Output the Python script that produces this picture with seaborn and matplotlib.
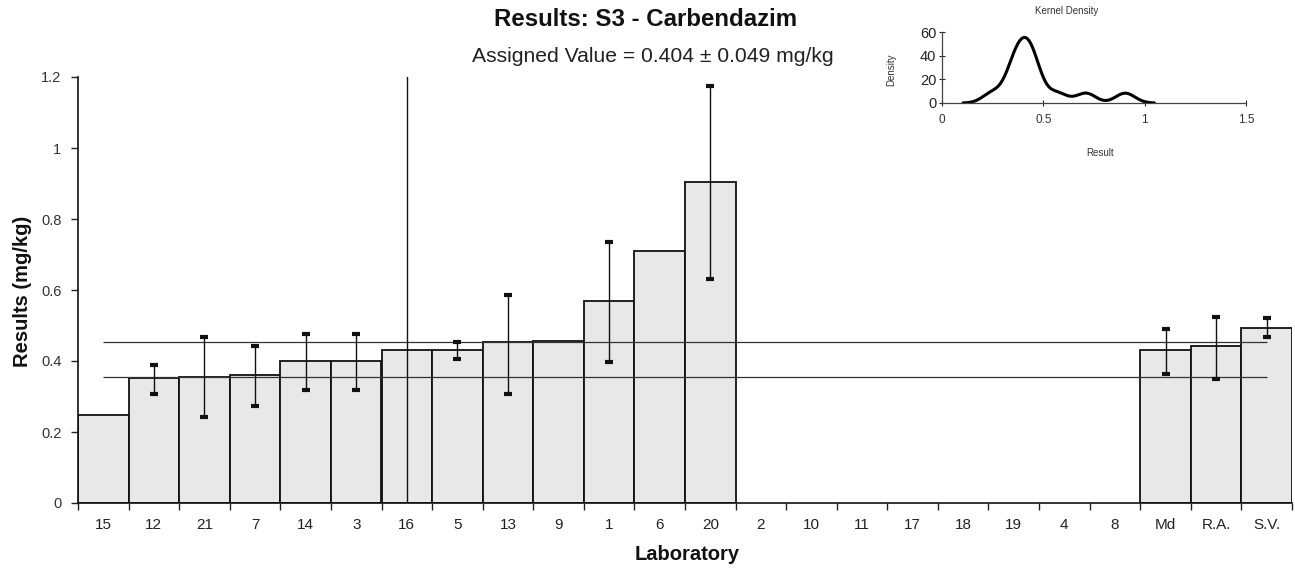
import numpy as np
import pandas as pd
import matplotlib
matplotlib.use("Agg")
import matplotlib.pyplot as plt
import seaborn as sns
from matplotlib.ticker import FixedLocator, NullFormatter, FuncFormatter

# Laboratory order on the x axis (sorted by reported result)
labs = ["15", "12", "21", "7", "14", "3", "16", "5", "13", "9", "1", "6", "20",
        "2", "10", "11", "17", "18", "19", "4", "8", "Md", "R.A.", "S.V."]
nan = np.nan
# Reported results (mg/kg); labs without a result are NaN
results = [0.248, 0.352, 0.355, 0.360, 0.400, 0.400, 0.431, 0.431, 0.453, 0.456,
           0.569, 0.710, 0.904,
           nan, nan, nan, nan, nan, nan, nan, nan,
           0.431, 0.442, 0.493]
# Expanded uncertainty range (lower / upper limits, mg/kg)
unc_low = [nan, 0.307, 0.242, 0.273, 0.318, 0.318, -0.50, 0.405, 0.307, nan,
           0.397, nan, 0.631,
           nan, nan, nan, nan, nan, nan, nan, nan,
           0.363, 0.349, 0.468]
unc_high = [nan, 0.389, 0.468, 0.442, 0.476, 0.476, 1.40, 0.453, 0.586, nan,
            0.735, nan, 1.175,
            nan, nan, nan, nan, nan, nan, nan, nan,
            0.490, 0.524, 0.521]

assigned_value = 0.404
assigned_unc = 0.049
kde_bandwidth = 0.048

sns.set_theme(style="white")
plt.rcParams["font.family"] = ["Liberation Sans", "DejaVu Sans"]

df = pd.DataFrame({"lab": labs, "result": results,
                   "low": unc_low, "high": unc_high})
df["pos"] = np.arange(len(df))

W, H = 1295, 572
fig = plt.figure(figsize=(W / 100, H / 100), dpi=100)
ax = fig.add_axes([78 / W, 1 - 503 / H, (1292 - 78) / W, (503 - 77) / H])

sns.barplot(data=df, x="lab", y="result", order=labs, width=1.0,
            color="#e8e8e8", saturation=1, edgecolor="#111111",
            linewidth=1.3, errorbar=None, ax=ax, zorder=1)

# assigned value ± uncertainty band limits
ax.hlines([assigned_value - assigned_unc, assigned_value + assigned_unc],
          0, len(labs) - 1, color="#333333", lw=0.9, zorder=3)

# uncertainty bars
eb = df.dropna(subset=["low"])
ax.errorbar(eb["pos"], eb["result"],
            yerr=[eb["result"] - eb["low"], eb["high"] - eb["result"]],
            fmt="none", ecolor="#111111", elinewidth=1.0, capsize=3.2,
            capthick=3.0, zorder=4)

ax.set_xlim(-0.5, len(labs) - 0.5)
ax.set_ylim(0, 1.2)
ax.set_yticks(np.arange(0, 1.21, 0.2))
ax.yaxis.set_major_formatter(FuncFormatter(lambda v, p: f"{v:g}"))
ax.xaxis.set_major_locator(FixedLocator(np.arange(-0.5, len(labs), 1.0)))
ax.xaxis.set_major_formatter(NullFormatter())
ax.xaxis.set_minor_locator(FixedLocator(np.arange(len(labs))))
ax.set_xticklabels(labs, minor=True)
ax.tick_params(axis="x", which="major", bottom=True, length=5, width=1,
               color="#222222", direction="out")
ax.tick_params(axis="x", which="minor", bottom=True, length=0, pad=11,
               labelsize=11, labelcolor="#222222")
ax.tick_params(axis="y", left=True, length=5, width=1, color="#222222",
               pad=7, labelsize=10.5, labelcolor="#333333")
for side in ["top", "right"]:
    ax.spines[side].set_visible(False)
for side in ["left", "bottom"]:
    ax.spines[side].set_color("#111111")
    ax.spines[side].set_linewidth(1.2)
ax.set_xlabel("")
ax.set_ylabel("")

fig.text(22 / W, 1 - 291 / H, "Results (mg/kg)", rotation=90, ha="center",
         va="center", fontsize=14.5, fontweight="bold", color="#111111")
fig.text(687 / W, 1 - 554 / H, "Laboratory", ha="center", va="center",
         fontsize=14.5, fontweight="bold", color="#111111")
fig.text(646 / W, 1 - 19 / H, "Results: S3 - Carbendazim", ha="center",
         va="center", fontsize=17.3, fontweight="bold", color="#111111")
fig.text(653 / W, 1 - 57 / H,
         f"Assigned Value = {assigned_value:.3f} ± {assigned_unc:.3f} mg/kg",
         ha="center", va="center", fontsize=15.2, color="#222222")

# kernel density of the laboratory results (sum of Gaussian kernels)
lab_vals = np.array([v for v, l in zip(results, labs)
                     if not np.isnan(v) and l not in ("Md", "R.A.", "S.V.")])
grid = np.linspace(lab_vals.min() - 3 * kde_bandwidth,
                   lab_vals.max() + 3 * kde_bandwidth, 300)
dens = np.exp(-0.5 * ((grid[:, None] - lab_vals[None, :]) / kde_bandwidth) ** 2)
dens = dens.sum(axis=1) / (kde_bandwidth * np.sqrt(2 * np.pi))
kde_df = pd.DataFrame({"Result": grid, "Density": dens})

axins = fig.add_axes([942 / W, 1 - 103 / H, 304 / W, 71 / H])
sns.lineplot(data=kde_df, x="Result", y="Density", color="black", lw=2.2,
             ax=axins)
axins.set_xlim(0, 1.5)
axins.set_ylim(0, 60)
axins.set_xticks([0, 0.5, 1, 1.5])
axins.set_yticks([0, 20, 40, 60])
axins.xaxis.set_major_formatter(FuncFormatter(lambda v, p: f"{v:g}"))
axins.tick_params(axis="x", bottom=True, direction="inout", length=4,
                  width=0.8, pad=6, labelsize=8.5, labelcolor="#333333")
axins.tick_params(axis="y", left=True, direction="inout", length=4,
                  width=0.8, pad=2, labelsize=10.5, labelcolor="#222222")
for side in ["top", "right"]:
    axins.spines[side].set_visible(False)
for side in ["left", "bottom"]:
    axins.spines[side].set_color("#444444")
    axins.spines[side].set_linewidth(0.9)
axins.set_xlabel("")
axins.set_ylabel("")
fig.text(1067 / W, 1 - 11 / H, "Kernel Density", ha="center", va="center",
         fontsize=7, color="#333333")
fig.text(1100 / W, 1 - 153 / H, "Result", ha="center", va="center",
         fontsize=7, color="#333333")
fig.text(891 / W, 1 - 70 / H, "Density", rotation=90, ha="center",
         va="center", fontsize=7, color="#333333")

fig.savefig("out.png", dpi=100)
